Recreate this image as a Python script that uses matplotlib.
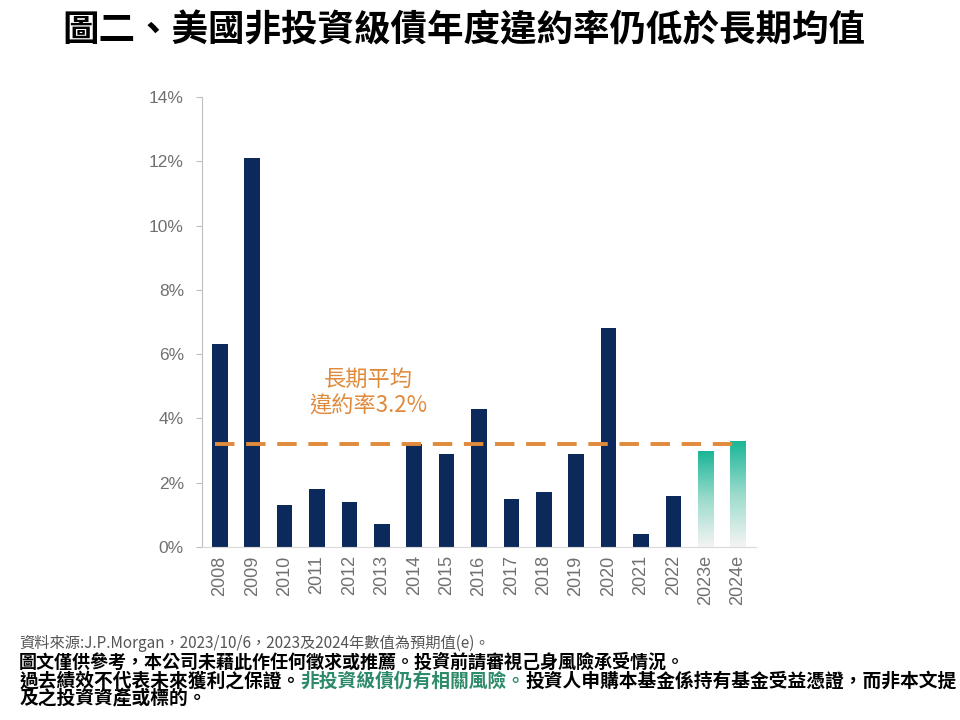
import numpy as np
import matplotlib
matplotlib.use("Agg")
import matplotlib.pyplot as plt
from matplotlib.colors import LinearSegmentedColormap

plt.rcParams['font.family'] = ['Noto Sans CJK TC', 'DejaVu Sans']

# data
years = ["2008", "2009", "2010", "2011", "2012", "2013", "2014", "2015", "2016",
         "2017", "2018", "2019", "2020", "2021", "2022", "2023e", "2024e"]
rates = [6.3, 12.1, 1.3, 1.8, 1.4, 0.7, 3.2, 2.9, 4.3,
         1.5, 1.7, 2.9, 6.8, 0.4, 1.6, 3.0, 3.3]
is_forecast = [False] * 15 + [True, True]
long_avg = 3.2
yticks = [0, 2, 4, 6, 8, 10, 12, 14]

navy = "#0B2A5B"
orange = "#E08A3C"
teal = "#17B596"
gray_txt = "#707070"

fig = plt.figure(figsize=(9.6, 7.2), dpi=100)
ax = fig.add_axes([0.2104, 0.2403, 0.577, 0.625])

x = np.arange(len(years))
bars = ax.bar(x, rates, width=0.48, color=[navy if not f else "none" for f in is_forecast],
              zorder=2)

# gradient fill for forecast bars
cmap = LinearSegmentedColormap.from_list("fc", ["#F4F4F4", "#9ADBCB", teal])
grad = np.linspace(0, 1, 256).reshape(-1, 1)
for b, f in zip(bars, is_forecast):
    if f:
        x0, y0 = b.get_x(), b.get_y()
        w, h = b.get_width(), b.get_height()
        im = ax.imshow(grad, extent=[x0, x0 + w, y0, y0 + h], origin="lower",
                       cmap=cmap, aspect="auto", zorder=2)
        im.set_clip_path(b)

ax.plot([x[0] - 0.15, x[-1] + 0.15], [long_avg, long_avg], color=orange, lw=2.8,
        ls=(0, (5, 3)), zorder=3)
ax.text(4.6, 4.8, "長期平均\n違約率3.2%", color=orange, fontsize=16, ha="center",
        va="center", linespacing=1.2)

ax.set_xlim(-0.55, len(years) - 0.45)
ax.set_ylim(0, 14)
ax.set_yticks(yticks)
ax.set_yticklabels([f"{v}%" for v in yticks], color=gray_txt, fontsize=12.5,
                   family=['Liberation Sans'])
ax.set_xticks(x)
ax.set_xticklabels(years, rotation=90, color=gray_txt, fontsize=13,
                   family=['Liberation Sans'])
ax.tick_params(axis="y", length=4, color="#BFBFBF", pad=9)
ax.tick_params(axis="x", length=0, pad=6)
for s in ["top", "right"]:
    ax.spines[s].set_visible(False)
ax.spines["left"].set_color("#BFBFBF")
ax.spines["bottom"].set_color("#D9D9D9")

fig.text(0.065, 0.957, "圖二、美國非投資級債年度違約率仍低於長期均值", fontsize=26.3,
         fontweight="bold", va="center", ha="left")

fig.text(0.02, 0.107, "資料來源:J.P.Morgan，2023/10/6，2023及2024年數值為預期值(e)。",
         fontsize=11, color="#555555", va="center")
fig.text(0.02, 0.080, "圖文僅供參考，本公司未藉此作任何徵求或推薦。投資前請審視己身風險承受情況。",
         fontsize=13, fontweight="bold", va="center")
t1 = fig.text(0.02, 0.054, "過去績效不代表未來獲利之保證。", fontsize=13.5, fontweight="bold",
              va="center")
fig.canvas.draw()
bb = t1.get_window_extent()
x1 = bb.x1 / fig.bbox.width
t2 = fig.text(x1, 0.054, "非投資級債仍有相關風險。", fontsize=13.5, fontweight="bold",
              va="center", color="#2E8B6A")
bb = t2.get_window_extent()
x2 = bb.x1 / fig.bbox.width
fig.text(x2, 0.054, "投資人申購本基金係持有基金受益憑證，而非本文提", fontsize=13.5,
         fontweight="bold", va="center")
fig.text(0.02, 0.029, "及之投資資產或標的。", fontsize=13.5, fontweight="bold", va="center")

fig.savefig("out.png", dpi=100, facecolor="white")
